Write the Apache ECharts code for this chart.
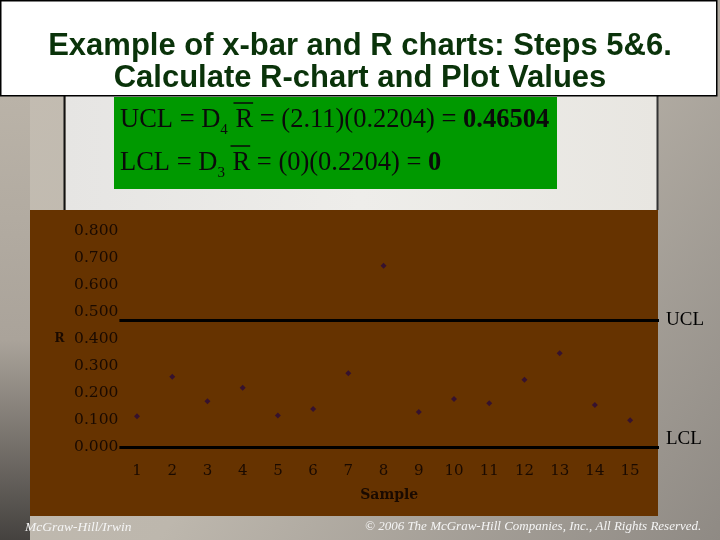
<!DOCTYPE html>
<html>
<head>
<meta charset="utf-8">
<script src="https://cdn.jsdelivr.net/npm/echarts@6/dist/echarts.min.js"></script>
<style>html,body{margin:0;padding:0;background:#b9b3a9;}#c{width:720px;height:540px;}</style>
</head>
<body>
<div id="c"></div>
<script>
// ---- data ----
var samples = [1, 2, 3, 4, 5, 6, 7, 8, 9, 10, 11, 12, 13, 14, 15];
var rValues = [0.114, 0.260, 0.169, 0.219, 0.117, 0.141, 0.273, 0.671, 0.130, 0.178, 0.162, 0.249, 0.347, 0.156, 0.099];
var yTicks = [0, 0.1, 0.2, 0.3, 0.4, 0.5, 0.6, 0.7, 0.8];
var controlLimits = [{ name: 'UCL', value: 0.46504 }, { name: 'LCL', value: 0 }];
var titleLines = ['Example of x-bar and R charts: Steps 5&6.', 'Calculate R-chart and Plot Values'];
var formulaLines = [
  { pre: 'UCL = D', sub: '4', mid: 'R = (2.11)(0.2204) = ', result: '0.46504' },
  { pre: 'LCL = D', sub: '3', mid: 'R = (0)(0.2204) = ', result: '0' }
];

var chart = echarts.init(document.getElementById('c'), null, { renderer: 'canvas' });

var serif = 'Liberation Serif, Times New Roman, serif';
var labelFont = 'DejaVu Serif, serif';
var fSize = 26.5, subSize = 15;

var mctx = document.createElement('canvas').getContext('2d');
function textW(t, font) { mctx.font = font; return mctx.measureText(t).width; }

var formulaGraphics = [];
formulaLines.forEach(function (f, i) {
  var x0 = 120, yc = 120 + i * 43;
  formulaGraphics.push({ type: 'text', z: 5, silent: true, x: x0, y: yc,
    style: { text: '{n|' + f.pre + '}{s|' + f.sub + '}{n| ' + f.mid + '}{b|' + f.result + '}', verticalAlign: 'middle',
      rich: { n: { fontFamily: serif, fontSize: fSize, fill: '#0a0a0a' },
              s: { fontFamily: serif, fontSize: subSize, fill: '#0a0a0a', padding: [20, 1, 0, 0] },
              b: { fontFamily: serif, fontSize: fSize, fontWeight: 'bold', fill: '#0a0a0a' } } } });
  var rx = x0 + textW(f.pre, fSize + 'px Liberation Serif') + textW(f.sub, subSize + 'px Liberation Serif') + 1 +
           textW(' ', fSize + 'px Liberation Serif');
  var rw = textW('R', fSize + 'px Liberation Serif');
  formulaGraphics.push({ type: 'line', z: 5, silent: true,
    shape: { x1: rx - 2, y1: yc - 17, x2: rx + rw, y2: yc - 17 }, style: { stroke: '#0a0a0a', lineWidth: 1.5 } });
});

var option = {
  backgroundColor: 'transparent',
  animation: false,
  title: {
    text: titleLines.join('\n'),
    left: 'center',
    top: 25,
    textStyle: { color: '#0a330a', fontFamily: 'Liberation Sans, Arial, sans-serif', fontWeight: 'bold', fontSize: 31, lineHeight: 32 }
  },
  graphic: [
    { type: 'rect', z: -10, silent: true, shape: { x: 0, y: 0, width: 720, height: 540 },
      style: { fill: { type: 'linear', x: 0, y: 0, x2: 1, y2: 1, colorStops: [
        { offset: 0, color: '#c4bdb2' }, { offset: 0.5, color: '#bdb7ad' }, { offset: 1, color: '#8f8a84' }] } } },
    { type: 'rect', z: -9, silent: true, shape: { x: 0, y: 96, width: 30, height: 444 },
      style: { fill: { type: 'linear', x: 0, y: 0, x2: 0, y2: 1, colorStops: [
        { offset: 0, color: '#bab3a8' }, { offset: 0.55, color: '#aaa39a' }, { offset: 1, color: '#45423f' }] } } },
    { type: 'rect', z: -9, silent: true, shape: { x: 66, y: 96, width: 591, height: 114 },
      style: { fill: { type: 'linear', x: 0, y: 0, x2: 1, y2: 0, colorStops: [
        { offset: 0, color: '#e6e5e3' }, { offset: 0.5, color: '#eeedea' }, { offset: 1, color: '#e8e6e1' }] } } },
    { type: 'line', z: -8, silent: true, shape: { x1: 64.5, y1: 96, x2: 64.5, y2: 210 }, style: { stroke: '#111', lineWidth: 2 } },
    { type: 'line', z: -8, silent: true, shape: { x1: 657.5, y1: 96, x2: 657.5, y2: 210 }, style: { stroke: '#333', lineWidth: 2 } },
    // title box
    { type: 'rect', z: -7, silent: true, shape: { x: 0.75, y: 0.75, width: 716, height: 95 },
      style: { fill: '#ffffff', stroke: '#000', lineWidth: 1.5 } },
    // green formula box
    { type: 'rect', z: -7, silent: true, shape: { x: 114, y: 97, width: 443, height: 92 }, style: { fill: '#009900' } },
    // brown chart panel
    { type: 'rect', z: -7, silent: true, shape: { x: 30, y: 210, width: 628, height: 306 }, style: { fill: '#663300' } },
    // footer
    { type: 'text', z: 5, silent: true, x: 25, y: 527,
      style: { text: 'McGraw-Hill/Irwin', verticalAlign: 'middle', fontFamily: serif, fontStyle: 'italic', fontSize: 13.5, fill: '#f5f5f5' } },
    { type: 'text', z: 5, silent: true, x: 365, y: 527,
      style: { text: '\u00a9 2006 The McGraw-Hill Companies, Inc., All Rights Reserved.', verticalAlign: 'middle', fontFamily: serif, fontStyle: 'italic', fontSize: 13, fill: '#f5f5f5' } }
  ].concat(formulaGraphics),
  grid: { left: 119.4, right: 61, top: 231, bottom: 93, containLabel: false },
  xAxis: {
    type: 'value', min: 0.5, max: 15.82,
    name: 'Sample', nameLocation: 'middle', nameGap: 41,
    nameTextStyle: { fontFamily: labelFont, fontWeight: 'bold', fontSize: 14, color: '#1a0a00' },
    axisLine: { show: false }, axisTick: { show: false }, splitLine: { show: false },
    axisLabel: { customValues: samples, margin: 17, fontFamily: labelFont, fontSize: 15, color: '#1a0a00' }
  },
  yAxis: {
    type: 'value', min: 0, max: 0.8, interval: 0.1,
    name: 'R', nameLocation: 'middle', nameRotate: 0, nameGap: 55,
    nameTextStyle: { fontFamily: labelFont, fontWeight: 'bold', fontSize: 12, color: '#1a0a00' },
    axisLine: { show: false }, axisTick: { show: false }, splitLine: { show: false },
    axisLabel: { customValues: yTicks, margin: 1, fontFamily: labelFont, fontSize: 15.5, color: '#1a0a00',
      formatter: function (v) { return v.toFixed(3); } }
  },
  series: [{
    type: 'scatter',
    data: samples.map(function (s, i) { return [s, rValues[i]]; }),
    symbol: 'diamond', symbolSize: 6,
    itemStyle: { color: '#2a0a3a' },
    markLine: {
      silent: true, symbol: 'none',
      lineStyle: { color: '#000', width: 3, type: 'solid' },
      label: { show: true, position: 'end', distance: 7, fontFamily: serif, fontSize: 19, color: '#000', formatter: '{b}' },
      data: controlLimits.map(function (c) {
        return { name: c.name, yAxis: c.value,
          label: c.name === 'LCL' ? { offset: [0, -8] } : {} };
      })
    }
  }]
};
chart.setOption(option);
</script>
</body>
</html>
